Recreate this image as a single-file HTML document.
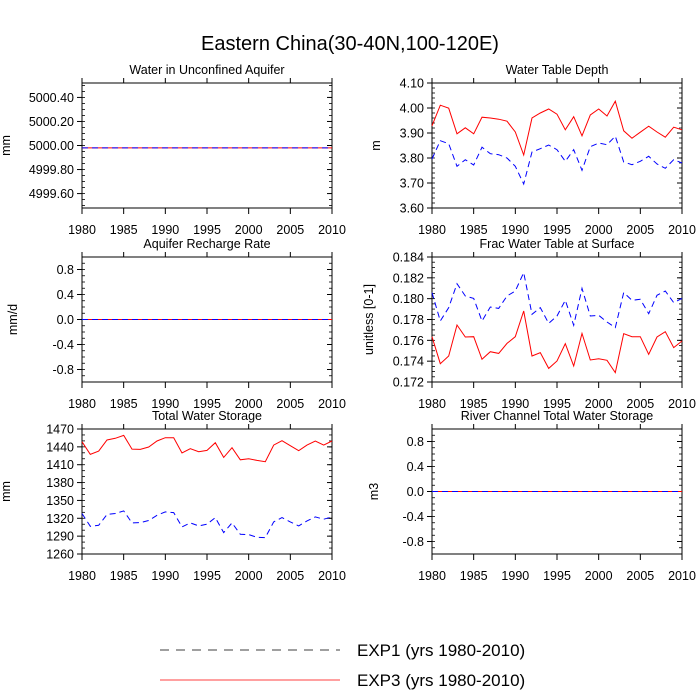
<!DOCTYPE html>
<html><head><meta charset="utf-8"><style>
body{margin:0;background:#fff;}
svg{display:block;font-family:"Liberation Sans",sans-serif;}
</style></head><body>
<svg id="chart" width="700" height="700" viewBox="0 0 700 700">
<text x="350" y="50" font-size="20" text-anchor="middle">Eastern China(30-40N,100-120E)</text>
<g>
<line x1="160" y1="650" x2="340" y2="650" stroke="#000" stroke-width="0.8" stroke-dasharray="9,7"/>
<text x="357" y="656" font-size="17">EXP1 (yrs 1980-2010)</text>
<line x1="160" y1="680" x2="340" y2="680" stroke="#f00" stroke-width="0.8"/>
<text x="357" y="686" font-size="17">EXP3 (yrs 1980-2010)</text>
</g>
</svg>
<script>
const years=[1980,1981,1982,1983,1984,1985,1986,1987,1988,1989,1990,1991,1992,1993,1994,1995,1996,1997,1998,1999,2000,2001,2002,2003,2004,2005,2006,2007,2008,2009,2010];
const xTicks=[1980,1985,1990,1995,2000,2005,2010];
const aquiferExp1=Array(31).fill(4999.98);
const aquiferExp3=Array(31).fill(4999.98);
const wtdExp1=[3.796,3.869,3.857,3.767,3.793,3.772,3.843,3.817,3.813,3.800,3.767,3.696,3.824,3.837,3.852,3.833,3.787,3.833,3.751,3.845,3.860,3.853,3.887,3.784,3.773,3.787,3.807,3.776,3.759,3.793,3.780];
const wtdExp3=[3.929,4.011,3.999,3.897,3.921,3.897,3.963,3.960,3.955,3.947,3.904,3.812,3.960,3.980,3.996,3.975,3.913,3.965,3.889,3.972,3.996,3.968,4.027,3.909,3.879,3.903,3.927,3.904,3.883,3.923,3.913];
const rechargeExp1=Array(31).fill(0);
const rechargeExp3=Array(31).fill(0);
const fracExp1=[0.18058,0.17786,0.17914,0.18144,0.18026,0.18003,0.17786,0.1792,0.17907,0.18026,0.18074,0.1825,0.1785,0.17914,0.17763,0.17834,0.17984,0.17744,0.18099,0.17834,0.1784,0.17776,0.17722,0.18058,0.17984,0.17994,0.17856,0.18032,0.18074,0.17962,0.18003];
const fracExp3=[0.17635,0.17376,0.1745,0.17747,0.17632,0.17635,0.17418,0.17491,0.17475,0.17571,0.17635,0.17882,0.1745,0.17482,0.17331,0.17402,0.17568,0.17354,0.17667,0.17411,0.17424,0.17408,0.1729,0.17664,0.17635,0.17635,0.17466,0.17632,0.17683,0.1753,0.17594];
const twsExp1=[1328,1306.6,1308.3,1326.3,1328,1332.4,1312.2,1312.8,1316.2,1325.1,1330.8,1329.6,1305.5,1312.2,1307.2,1310,1321.2,1296,1312.2,1293.1,1292.6,1288.1,1287.5,1313.9,1321.2,1313.9,1307.2,1315.6,1322.3,1318.4,1322.3];
const twsExp3=[1448.7,1427.3,1432.9,1451.5,1454.3,1459.3,1436.3,1435.7,1439.7,1449.8,1455.4,1455.4,1429.6,1436.9,1431.8,1434.1,1447,1422.3,1438.6,1418.3,1420,1417.2,1415,1443,1450.3,1441.9,1433.5,1443,1449.8,1443,1449.8];
const riverExp1=Array(31).fill(0);
const riverExp3=Array(31).fill(0);
const aquiferTicks=[5000.40,5000.20,5000.00,4999.80,4999.60];
const wtdTicks=[4.10,4.00,3.90,3.80,3.70,3.60];
const pmTicks=[0.8,0.4,0.0,-0.4,-0.8];
const fracTicks=[0.184,0.182,0.180,0.178,0.176,0.174,0.172];
const twsTicks=[1470,1440,1410,1380,1350,1320,1290,1260];

const NS='http://www.w3.org/2000/svg';
const svg=document.getElementById('chart');
function mk(tag,attrs,parent){const e=document.createElementNS(NS,tag);for(const k in attrs)e.setAttribute(k,attrs[k]);(parent||svg).appendChild(e);return e;}

const panels=[
 {key:'aquifer',title:'Water in Unconfined Aquifer',unit:'mm',x0:82,y0:83,ymin:4999.48,ymax:5000.52,ticks:aquiferTicks,dec:2,minor:0.05,e1:aquiferExp1,e3:aquiferExp3,ut:10},
 {key:'wtd',title:'Water Table Depth',unit:'m',x0:432,y0:83,ymin:3.60,ymax:4.10,ticks:wtdTicks,dec:2,minor:0.02,e1:wtdExp1,e3:wtdExp3,ut:380},
 {key:'recharge',title:'Aquifer Recharge Rate',unit:'mm/d',x0:82,y0:257,ymin:-1,ymax:1,ticks:pmTicks,dec:1,minor:0.1,e1:rechargeExp1,e3:rechargeExp3,ut:17},
 {key:'frac',title:'Frac Water Table at Surface',unit:'unitless [0-1]',x0:432,y0:257,ymin:0.172,ymax:0.184,ticks:fracTicks,dec:3,minor:0.0005,e1:fracExp1,e3:fracExp3,ut:373},
 {key:'tws',title:'Total Water Storage',unit:'mm',x0:82,y0:429,ymin:1260,ymax:1470,ticks:twsTicks,dec:0,minor:10,e1:twsExp1,e3:twsExp3,ut:10},
 {key:'river',title:'River Channel Total Water Storage',unit:'m3',x0:432,y0:429,ymin:-1,ymax:1,ticks:pmTicks,dec:1,minor:0.1,e1:riverExp1,e3:riverExp3,ut:378}
];
const W=250,H=125;
panels.forEach(p=>{
 const g=mk('g',{});
 
 
 const xs=v=>p.x0+(v-1980)/30*W;
 const ys=v=>p.y0+H-(v-p.ymin)/(p.ymax-p.ymin)*H;
 const t=mk('text',{x:p.x0+W/2,y:p.y0-9,'font-size':12.5,'text-anchor':'middle'},g);t.textContent=p.title;
 
 
 const ut=mk('text',{x:p.ut,y:p.y0+H/2,'font-size':12.5,'text-anchor':'middle',transform:`rotate(-90 ${p.ut} ${p.y0+H/2})`},g);ut.textContent=p.unit;
 
 
 // minor ticks
 const n0=Math.ceil(p.ymin/p.minor-1e-6),n1=Math.floor(p.ymax/p.minor+1e-6);
 for(let i=n0;i<=n1;i++){const y=ys(i*p.minor);
  mk('line',{x1:p.x0,x2:p.x0+3,y1:y,y2:y,stroke:'#000','stroke-width':0.8},g);
  mk('line',{x1:p.x0+W,x2:p.x0+W-3,y1:y,y2:y,stroke:'#000','stroke-width':0.8},g);}
 p.ticks.forEach(v=>{const y=ys(v);
  mk('line',{x1:p.x0-5,x2:p.x0,y1:y,y2:y,stroke:'#000','stroke-width':1},g);
  mk('line',{x1:p.x0+W,x2:p.x0+W-5,y1:y,y2:y,stroke:'#000','stroke-width':1},g);
  const l=mk('text',{x:p.x0-8,y:y+4.5,'font-size':12.5,'text-anchor':'end'},g);l.textContent=v.toFixed(p.dec);
  
  });
 xTicks.forEach(v=>{const x=xs(v);
  mk('line',{x1:x,x2:x,y1:p.y0+H,y2:p.y0+H+6,stroke:'#000','stroke-width':1},g);
  mk('line',{x1:x,x2:x,y1:p.y0,y2:p.y0-5,stroke:'#000','stroke-width':1},g);
  const l=mk('text',{x:x,y:p.y0+H+26,'font-size':12.5,'text-anchor':'middle'},g);l.textContent=v;
  
  });
 const fr=mk('rect',{x:p.x0,y:p.y0,width:W,height:H,fill:'none',stroke:'#000','stroke-width':1},g);
 
 
 const pts=a=>a.map((v,i)=>xs(years[i]).toFixed(1)+','+ys(v).toFixed(1)).join(' ');
 const l3=mk('polyline',{points:pts(p.e3),fill:'none',stroke:'#f00','stroke-width':1},g);
 
 
 const l1=mk('polyline',{points:pts(p.e1),fill:'none',stroke:'#00f','stroke-width':1,'stroke-dasharray':'6,4'},g);
 
 
});
</script>
</body></html>
